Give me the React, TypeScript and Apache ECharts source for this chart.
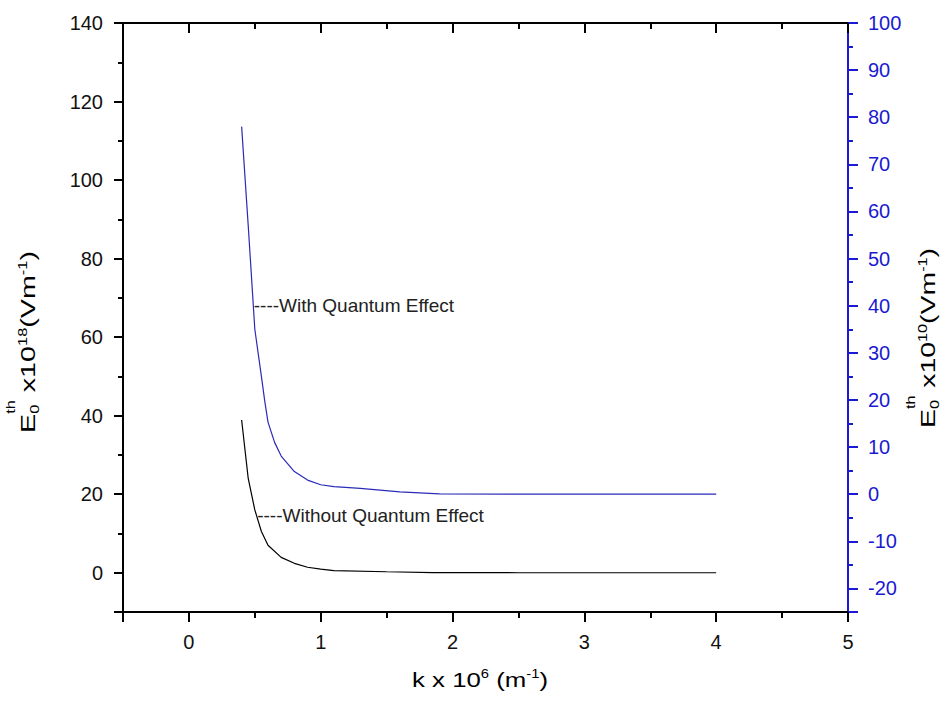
import React, { useEffect, useRef } from "react";
import * as echarts from "echarts";

// ---- data ----
const kBlack = [0.4, 0.45, 0.5, 0.55, 0.6, 0.7, 0.8, 0.9, 1.0, 1.1, 1.5, 1.85, 2.5, 3.0, 4.0];
const eBlack = [38.9, 24, 16, 10.5, 7.0, 3.9, 2.4, 1.4, 0.9, 0.55, 0.25, 0.05, 0, 0, 0];
const kBlue = [0.4, 0.45, 0.5, 0.55, 0.575, 0.6, 0.65, 0.7, 0.8, 0.9, 1.0, 1.1, 1.3, 1.6, 1.9, 2.5, 3.0, 4.0];
const eBlue = [78, 57, 35, 25, 19.8, 15.3, 11, 8.1, 4.8, 3.0, 2.0, 1.6, 1.25, 0.5, 0.05, 0, 0, 0];

const xRange = [-0.5, 5];
const leftRange = [-10, 140];
const rightRange = [-25, 100];

const annoBlue = { k: 0.488, e: 40, text: "----With Quantum Effect" };
const annoBlack = { k: 0.514, e: 14.6, text: "----Without Quantum Effect" };

const FAMILY = '"Liberation Sans", Arial, Helvetica, sans-serif';
const BLUE_AXIS = "#1a1ad0";
const BLUE_LINE = "#2a2ab8";

type Tok = { t: string; size: number; dy: number; stack?: boolean };

function buildTitle(
  tokens: Tok[],
  x0: number,
  y0: number,
  vertical: boolean,
  targetLen: number,
  centered: boolean
) {
  const ctx = document.createElement("canvas").getContext("2d")!;
  let lx = 0;
  let pending = 0;
  const children: any[] = [];
  for (const tk of tokens) {
    ctx.font = `${tk.size}px ${FAMILY}`;
    const w = ctx.measureText(tk.t).width;
    children.push({
      type: "text",
      x: lx,
      y: tk.dy - 0.3465 * tk.size,
      silent: true,
      style: {
        text: tk.t,
        font: `${tk.size}px ${FAMILY}`,
        fill: "#000",
        align: "left",
        verticalAlign: "middle",
        textAlign: "left",
        textVerticalAlign: "middle",
      },
    });
    if (tk.stack) pending = Math.max(pending, w);
    else {
      lx += Math.max(pending, w);
      pending = 0;
    }
  }
  const sx = targetLen / lx;
  return {
    type: "group",
    x: centered ? x0 - (lx * sx) / 2 : x0,
    y: y0,
    rotation: vertical ? Math.PI / 2 : 0,
    scaleX: sx,
    silent: true,
    children,
  };
}

export default function App() {
  const ref = useRef<HTMLDivElement>(null);
  useEffect(() => {
    const chart = echarts.init(ref.current!, null, { renderer: "svg" });

    const titleTokens = (exp: string): Tok[] => [
      { t: "E", size: 21, dy: 0 },
      { t: "th", size: 12, dy: -20, stack: true },
      { t: "0", size: 12, dy: 4 },
      { t: " x10", size: 21, dy: 0 },
      { t: exp, size: 12, dy: -8 },
      { t: "(Vm", size: 21, dy: 0 },
      { t: "-1", size: 12, dy: -8 },
      { t: ")", size: 21, dy: 0 },
    ];
    const leftTitle = buildTitle(titleTokens("18"), 35, 433, true, 182, false);
    const rightTitle = buildTitle(titleTokens("10"), 935, 428, true, 180, false);
    const xTitle = buildTitle(
      [
        { t: "k x 10", size: 21, dy: 0 },
        { t: "6", size: 12, dy: -9 },
        { t: " (m", size: 21, dy: 0 },
        { t: "-1", size: 12, dy: -9 },
        { t: ")", size: 21, dy: 0 },
      ],
      480,
      687,
      false,
      136,
      true
    );

    const tickStyle = (color: string) => ({ color, width: 2 });
    const hideEdge = (edge: number) => (v: number) =>
      Math.abs(v - edge) < 1e-9 ? "" : String(v);

    chart.setOption({
      animation: false,
      backgroundColor: "#fff",
      textStyle: { fontFamily: FAMILY },
      grid: {
        left: 123,
        right: 100,
        top: 23,
        bottom: 92,
        containLabel: false,
        outerBoundsMode: "none",
      },
      xAxis: [
        {
          type: "value",
          position: "bottom",
          min: xRange[0],
          max: xRange[1],
          splitNumber: 5,
          axisLine: { show: true, onZero: false, lineStyle: tickStyle("#000") },
          axisTick: { show: true, length: 10, lineStyle: tickStyle("#000") },
          minorTick: { show: true, splitNumber: 2, length: 6, lineStyle: tickStyle("#000") },
          axisLabel: {
            margin: 20,
            fontSize: 20,
            color: "#111",
            formatter: hideEdge(xRange[0]),
          },
          splitLine: { show: false },
          minorSplitLine: { show: false },
        },
        {
          type: "value",
          position: "top",
          min: xRange[0],
          max: xRange[1],
          splitNumber: 5,
          axisLine: { show: true, onZero: false, lineStyle: tickStyle("#000") },
          axisTick: { show: true, inside: true, length: 10, lineStyle: tickStyle("#000") },
          minorTick: { show: true, splitNumber: 2, length: 6, lineStyle: tickStyle("#000") },
          axisLabel: { show: false },
          splitLine: { show: false },
          minorSplitLine: { show: false },
        },
      ],
      yAxis: [
        {
          type: "value",
          position: "left",
          min: leftRange[0],
          max: leftRange[1],
          splitNumber: 7,
          axisLine: { show: true, onZero: false, lineStyle: tickStyle("#000") },
          axisTick: { show: true, length: 9, lineStyle: tickStyle("#000") },
          minorTick: { show: true, splitNumber: 2, length: 5, lineStyle: tickStyle("#000") },
          axisLabel: {
            margin: 20,
            fontSize: 20,
            color: "#111",
            formatter: hideEdge(leftRange[0]),
          },
          splitLine: { show: false },
          minorSplitLine: { show: false },
        },
        {
          type: "value",
          position: "right",
          min: rightRange[0],
          max: rightRange[1],
          splitNumber: 12,
          axisLine: { show: true, onZero: false, lineStyle: tickStyle(BLUE_AXIS) },
          axisTick: { show: true, length: 10, lineStyle: tickStyle(BLUE_AXIS) },
          minorTick: { show: true, splitNumber: 2, length: 5, lineStyle: tickStyle(BLUE_AXIS) },
          axisLabel: {
            margin: 20,
            fontSize: 20,
            color: BLUE_AXIS,
            formatter: hideEdge(rightRange[0]),
          },
          splitLine: { show: false },
          minorSplitLine: { show: false },
        },
      ],
      series: [
        {
          name: "Without Quantum Effect",
          type: "line",
          xAxisIndex: 0,
          yAxisIndex: 0,
          data: kBlack.map((k, i) => [k, eBlack[i]]),
          symbol: "none",
          lineStyle: { color: "#000", width: 1.2 },
          markPoint: {
            symbol: "circle",
            symbolSize: 1,
            itemStyle: { color: "rgba(0,0,0,0)" },
            label: {
              show: true,
              position: "right",
              distance: 0,
              formatter: annoBlack.text,
              fontSize: 19,
              fontFamily: FAMILY,
              color: "#222",
            },
            data: [{ coord: [annoBlack.k, annoBlack.e] }],
          },
        },
        {
          name: "With Quantum Effect",
          type: "line",
          xAxisIndex: 0,
          yAxisIndex: 1,
          data: kBlue.map((k, i) => [k, eBlue[i]]),
          symbol: "none",
          lineStyle: { color: BLUE_LINE, width: 1.2 },
          markPoint: {
            symbol: "circle",
            symbolSize: 1,
            itemStyle: { color: "rgba(0,0,0,0)" },
            label: {
              show: true,
              position: "right",
              distance: 0,
              formatter: annoBlue.text,
              fontSize: 19,
              fontFamily: FAMILY,
              color: "#222",
            },
            data: [{ coord: [annoBlue.k, annoBlue.e] }],
          },
        },
      ],
      graphic: [leftTitle, rightTitle, xTitle],
    });
    return () => chart.dispose();
  }, []);
  return (
    <div
      ref={ref}
      style={{ position: "fixed", left: 0, top: 0, width: 948, height: 704, background: "#fff" }}
    />
  );
}
